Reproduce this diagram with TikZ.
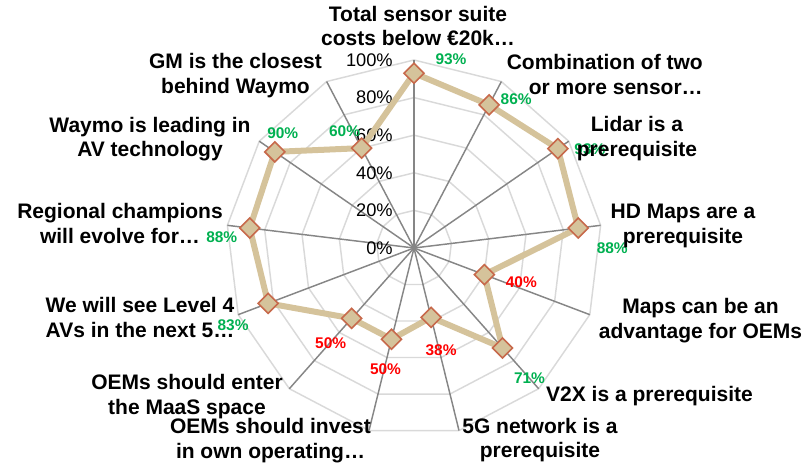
\documentclass[tikz,border=0pt]{standalone}
\usepackage{fontspec}
\setmainfont{Liberation Sans}
\usetikzlibrary{calc,positioning,shapes.geometric}

\definecolor{ringgray}{RGB}{217,217,217}
\definecolor{axisgray}{RGB}{134,134,134}
\definecolor{sand}{RGB}{213,195,155}
\definecolor{rust}{RGB}{199,105,75}
\definecolor{okgreen}{RGB}{0,176,80}
\definecolor{badred}{RGB}{255,0,0}

\begin{document}
\begin{tikzpicture}[x=0.75pt,y=0.75pt,
  ring/.style={ringgray, line width=1.1pt},
  spoke/.style={axisgray, line width=1.1pt},
  series/.style={sand, line width=4.5pt, line join=round},
  datapt/.style={diamond, draw=rust, fill=sand, line width=1.2pt, inner sep=0pt,
    minimum width=15.5pt, minimum height=15.5pt},
  ticklabel/.style={anchor=east, inner sep=0pt, font=\fontsize{13.7}{16}\selectfont},
  pct/.style={inner sep=0pt, font=\fontsize{11.6}{14}\selectfont\bfseries},
  catlabel/.style={anchor=north, inner sep=0pt, align=center,
    font=\fontsize{15.75}{18.4}\selectfont\bfseries}]
  \useasboundingbox (0,0) rectangle (806,463);

  \begin{scope}[shift={(414,215)}]
    % rings every 20%
    \foreach \k in {1,...,5}
      \draw[ring] (90:{\k*37.6}) \foreach \i in {1,...,12} { -- (90-\i*360/13:{\k*37.6}) } -- cycle;

    % spokes, the value axis a bit heavier
    \foreach \i in {1,...,12}
      \draw[spoke] (0,0) -- (90-\i*360/13:188);
    \draw[spoke, line width=2.2pt] (0,0) -- (90:188);

    \foreach \v [count=\k from 0] in {0,20,...,100}
      \node[ticklabel] (tick\k) at (-21,{\k*37.6}) {\v\%};

    % agreement per statement
    \foreach \v [count=\i from 0] in {93,86,93,88,40,71,38,50,50,83,88,90,60}
      \coordinate (p\i) at (90-\i*360/13:{1.88*\v});

    \draw[series] (p0) -- (p1) -- (p2) -- (p3) -- (p4) -- (p5) -- (p6) -- (p7)
      -- (p8) -- (p9) -- (p10) -- (p11) -- (p12) -- cycle;

    \foreach \i in {0,...,12}
      \node[datapt] (m\i) at (p\i) {};
  \end{scope}

  \node[pct, okgreen] (v0) at ($(m0)+(37,14)$) {93\%};
  \node[pct, okgreen] (v1) at ($(m1)+(27,6)$) {86\%};
  \node[pct, okgreen] (v2) at ($(m2)+(32,-1)$) {93\%};
  \node[pct, okgreen] (v3) at ($(m3)+(34,-20)$) {88\%};
  \node[pct, badred] (v4) at ($(m4)+(37,-8)$) {40\%};
  \node[pct, okgreen] (v5) at ($(m5)+(27,-30)$) {71\%};
  \node[pct, badred] (v6) at ($(m6)+(10,-33)$) {38\%};
  \node[pct, badred] (v7) at ($(m7)+(-6,-30)$) {50\%};
  \node[pct, badred] (v8) at ($(m8)+(-21,-25)$) {50\%};
  \node[pct, okgreen] (v9) at ($(m9)+(-35,-22)$) {83\%};
  \node[pct, okgreen] (v10) at ($(m10)+(-28,-9)$) {88\%};
  \node[pct, okgreen] (v11) at ($(m11)+(8,19)$) {90\%};
  \node[pct, okgreen] (v12) at ($(m12)+(-17,17)$) {60\%};

  % statements round the chart
  \node[catlabel] (c0) at (418,457.3) {Total sensor suite\\costs below €20k…};
  \node[catlabel, anchor=north east, align=right] (c1) at (703,408.7) {Combination of two\\or more sensor…};
  \node[catlabel] (c2) at (637,346.5) {Lidar is a\\prerequisite};
  \node[catlabel] (c3) at (683,259) {HD Maps are a\\prerequisite};
  \node[catlabel] (c4) at (700.5,165) {Maps can be an\\advantage for OEMs};
  \node[catlabel] (c5) at (649.5,76.5) {V2X is a prerequisite};
  \node[catlabel] (c6) at (540,45.3) {5G network is a\\prerequisite};
  \node[catlabel] (c7) at (270.5,44.5) {OEMs should invest\\in own operating…};
  \node[catlabel] (c8) at (187,88.7) {OEMs should enter\\the MaaS space};
  \node[catlabel] (c9) at (140,165.7) {We will see Level 4\\AVs in the next 5…};
  \node[catlabel] (c10) at (120,259.7) {Regional champions\\will evolve for…};
  \node[catlabel] (c11) at (150,346.3) {Waymo is leading in\\AV technology};
  \node[catlabel] (c12) at (235.5,409.7) {GM is the closest\\behind Waymo};
\end{tikzpicture}
\end{document}
